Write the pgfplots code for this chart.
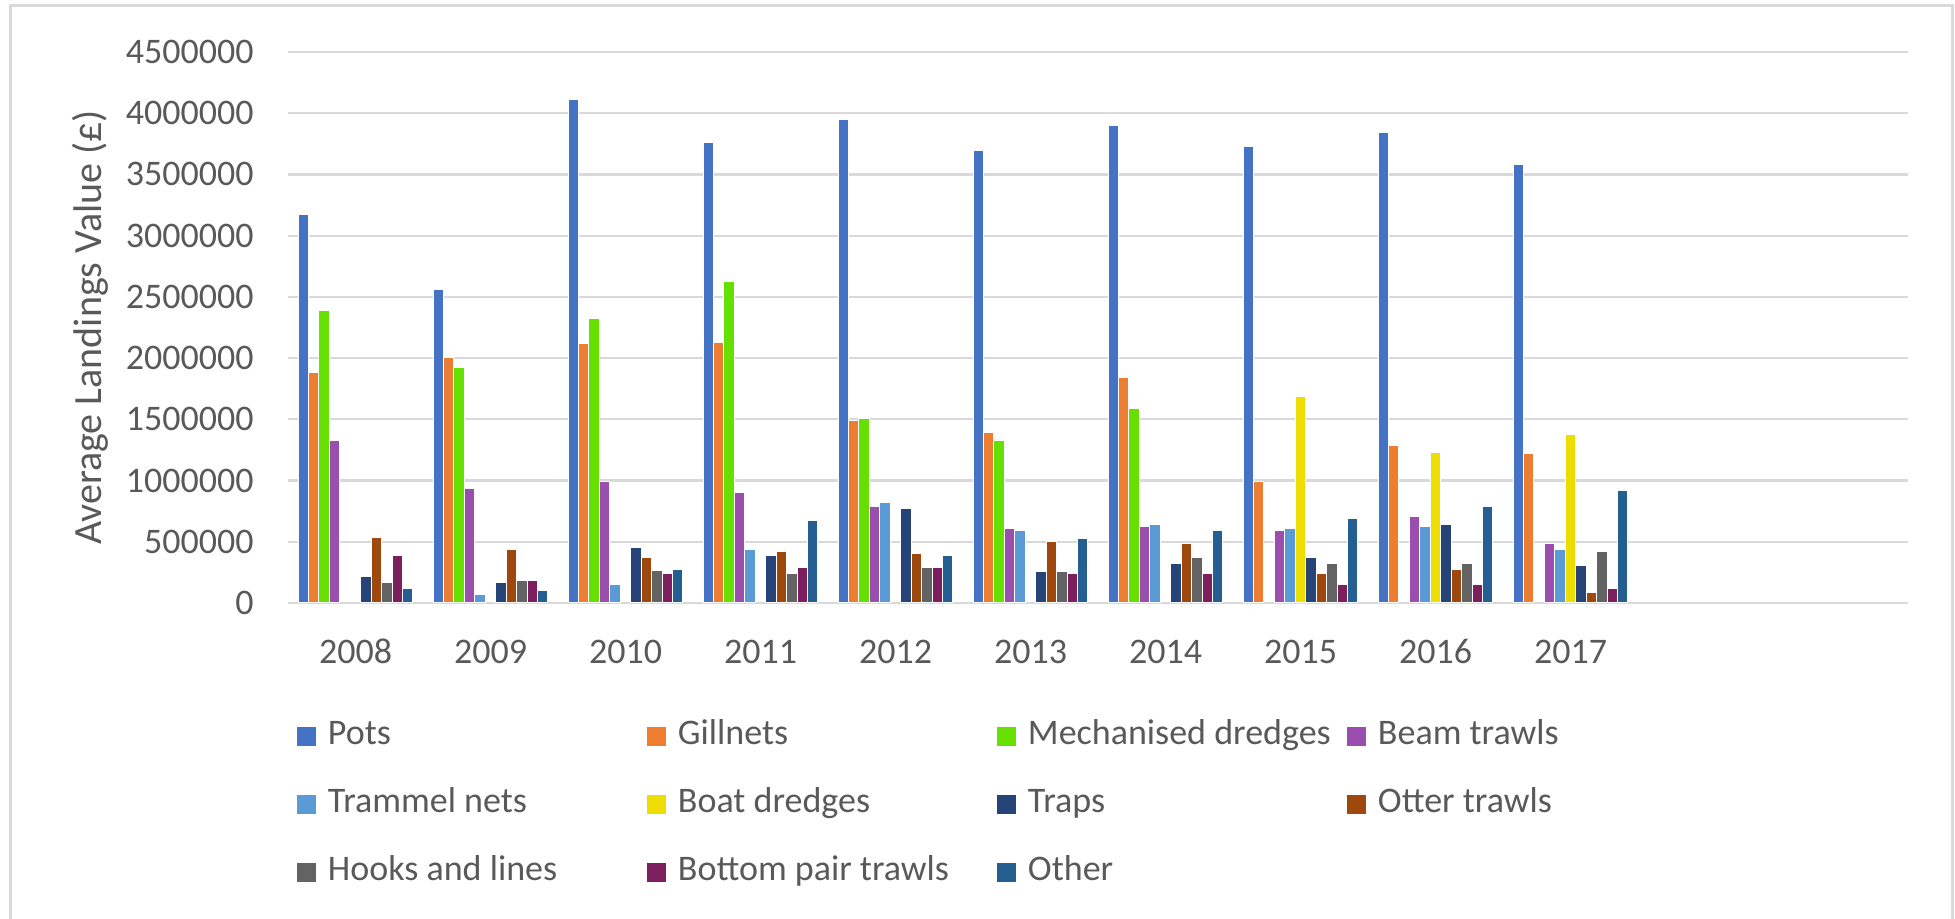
\documentclass[border=0pt]{standalone}
\usepackage{fontspec}
\setmainfont{Carlito}
\usepackage{pgfplots}
\pgfplotsset{compat=1.18}
\usepackage{pgfplotstable}
\definecolor{cPots}{HTML}{4472C4}
\definecolor{cGill}{HTML}{ED7D31}
\definecolor{cMech}{HTML}{66E000}
\definecolor{cBeam}{HTML}{9A4EAE}
\definecolor{cTram}{HTML}{5B9BD5}
\definecolor{cBoat}{HTML}{EEDD00}
\definecolor{cTraps}{HTML}{264478}
\definecolor{cOtter}{HTML}{9E480E}
\definecolor{cHooks}{HTML}{636363}
\definecolor{cBpt}{HTML}{7D1E5E}
\definecolor{cOther}{HTML}{255E91}
\definecolor{gridc}{HTML}{D9D9D9}
\definecolor{txt}{HTML}{595959}
\definecolor{framec}{HTML}{D9D9D9}

\pgfplotstableread{
x pots gill mech beam tram boat traps otter hooks bpt other
0 3171000 1879000 2386000 1328000 nan nan 214000 531000 167000 390000 117000
1 2563000 2003000 1926000 935000 73000 nan 167000 434000 184000 184000 103000
2 4115000 2116000 2323000 995000 150000 nan 451000 374000 264000 244000 277000
3 3757000 2130000 2623000 900000 433000 nan 390000 420000 243000 290000 673000
4 3950000 1490000 1503000 787000 820000 nan 773000 403000 290000 290000 390000
5 3693000 1393000 1330000 610000 593000 nan 260000 500000 260000 243000 530000
6 3900000 1843000 1587000 627000 643000 nan 323000 483000 373000 243000 593000
7 3727000 993000 nan 593000 610000 1683000 373000 243000 323000 147000 690000
8 3840000 1283000 nan 707000 627000 1233000 643000 277000 323000 147000 787000
9 3580000 1220000 nan 483000 433000 1377000 307000 83000 420000 117000 917000
}\data

\newcommand{\legtxt}[1]{\makebox[159.5pt][l]{#1}}

\begin{document}
\begin{tikzpicture}
\path[use as bounding box] (0pt,0pt) rectangle (977.5pt,459.5pt);
\draw[line width=1.5pt, color=framec] (5pt,-10pt) rectangle (976pt,456.5pt);
\begin{axis}[
  at={(144pt,158pt)}, anchor=south west,
  scale only axis, width=810pt, height=275.5pt,
  xmin=-0.5, xmax=11.5, ymin=0, ymax=4500000,
  ytick={0,500000,1000000,1500000,2000000,2500000,3000000,3500000,4000000,4500000},
  xtick={0,1,2,3,4,5,6,7,8,9},
  xticklabels={2008,2009,2010,2011,2012,2013,2014,2015,2016,2017},
  ybar=0pt, bar width=0.0774,
  axis line style={draw=none},
  major tick length=0pt,
  ymajorgrids, grid style={line width=1.1pt, color=gridc},
  scaled y ticks=false,
  yticklabel style={/pgf/number format/fixed, /pgf/number format/1000 sep={}, /pgf/number format/assume math mode=true, inner sep=0pt, xshift=-17pt, font=\fontsize{18}{21.6}\selectfont, text=txt},
  xticklabel style={anchor=base, inner sep=0pt, yshift=-30.4pt, font=\fontsize{18}{21.6}\selectfont, text=txt},
  ylabel={Average Landings Value (£)},
  ylabel style={at={(axis description cs:-0.1222,0.5)}, anchor=center, font=\fontsize{20}{24}\selectfont, text=txt},
  legend columns=4,
  legend cell align=left,
  legend image code/.code={\fill[#1,draw=none] (0pt,-4.75pt) rectangle (9.5pt,4.75pt);},
  legend style={draw=none, fill=none, inner sep=0pt, outer sep=0pt,
    at={(axis description cs:0,0)}, anchor=north west, xshift=4.5pt, yshift=-57.8pt,
    font=\fontsize{18}{21.6}\selectfont, text=txt, row sep=16.5pt,
    nodes={inner sep=0pt, text height=13pt, text depth=4.5pt},
    /tikz/every odd column/.append style={column sep=6pt}},
]
\addplot[fill=cPots, draw=white, line width=0.5pt] table[x=x,y=pots]{\data}; \addlegendentry{\legtxt{Pots}}
\addplot[fill=cGill, draw=white, line width=0.5pt] table[x=x,y=gill]{\data}; \addlegendentry{\legtxt{Gillnets}}
\addplot[fill=cMech, draw=white, line width=0.5pt] table[x=x,y=mech]{\data}; \addlegendentry{\legtxt{Mechanised dredges}}
\addplot[fill=cBeam, draw=white, line width=0.5pt] table[x=x,y=beam]{\data}; \addlegendentry{\legtxt{Beam trawls}}
\addplot[fill=cTram, draw=white, line width=0.5pt] table[x=x,y=tram]{\data}; \addlegendentry{\legtxt{Trammel nets}}
\addplot[fill=cBoat, draw=white, line width=0.5pt] table[x=x,y=boat]{\data}; \addlegendentry{\legtxt{Boat dredges}}
\addplot[fill=cTraps, draw=white, line width=0.5pt] table[x=x,y=traps]{\data}; \addlegendentry{\legtxt{Traps}}
\addplot[fill=cOtter, draw=white, line width=0.5pt] table[x=x,y=otter]{\data}; \addlegendentry{\legtxt{Otter trawls}}
\addplot[fill=cHooks, draw=white, line width=0.5pt] table[x=x,y=hooks]{\data}; \addlegendentry{\legtxt{Hooks and lines}}
\addplot[fill=cBpt, draw=white, line width=0.5pt] table[x=x,y=bpt]{\data}; \addlegendentry{\legtxt{Bottom pair trawls}}
\addplot[fill=cOther, draw=white, line width=0.5pt] table[x=x,y=other]{\data}; \addlegendentry{\legtxt{Other}}
\end{axis}
\end{tikzpicture}
\end{document}
